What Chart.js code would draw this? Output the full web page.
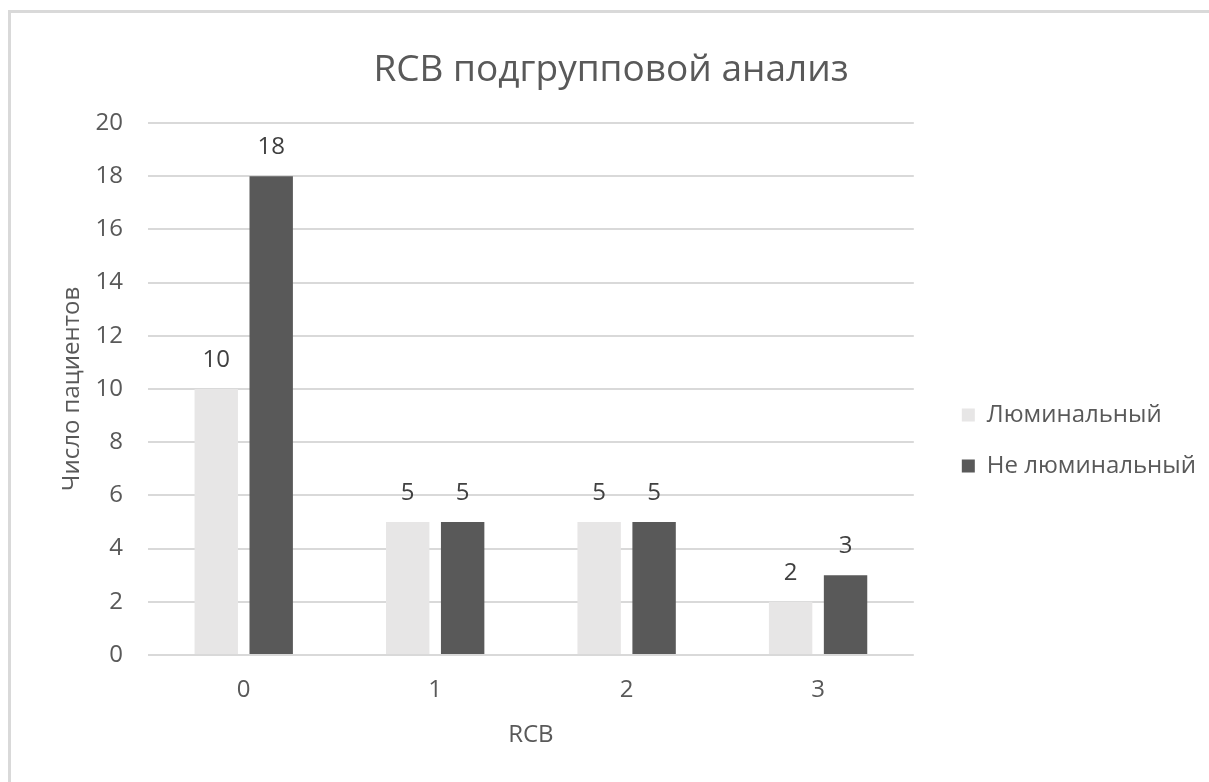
<!DOCTYPE html>
<html>
<head>
<meta charset="utf-8">
<script src="https://cdn.jsdelivr.net/npm/chart.js@4.4.1/dist/chart.umd.min.js"></script>
<style>
  html, body { margin: 0; padding: 0; background: #ffffff; }
  #wrap { position: relative; width: 1209px; height: 782px; overflow: hidden; }
  #frame { position: absolute; left: 8px; top: 10px; width: 1400px; height: 1000px;
           border-left: 3px solid #d9d9d9; border-top: 3px solid #d9d9d9; }
  canvas { position: absolute; left: 0; top: 0; }
</style>
</head>
<body>
<div id="wrap">
  <div id="frame"></div>
  <canvas id="chart" width="1209" height="782"></canvas>
</div>
<script>
// RCB groups and patient counts per subtype
const categories = ['0', '1', '2', '3'];
const luminal = [10, 5, 5, 2];
const nonLuminal = [18, 5, 5, 3];
const seriesNames = ['Люминальный', 'Не люминальный'];
const chartTitle = 'RCB подгрупповой анализ';
const xTitle = 'RCB';
const yTitle = 'Число пациентов';
const yMin = 0, yMax = 20, yStep = 2;

const FONT = '"Open Sans", "Noto Sans", sans-serif';
const TEXT = '#595959';
const GRID = '#d9d9d9';
const SIZE = 24;

// value labels above every bar
const valueLabels = {
  id: 'valueLabels',
  afterDatasetsDraw(chart) {
    const ctx = chart.ctx;
    ctx.save();
    ctx.font = SIZE + 'px ' + FONT;
    ctx.fillStyle = '#404040';
    ctx.textAlign = 'center';
    ctx.textBaseline = 'middle';
    chart.data.datasets.forEach((ds, i) => {
      chart.getDatasetMeta(i).data.forEach((bar, j) => {
        ctx.fillText(String(ds.data[j]), bar.x, bar.y - 29);
      });
    });
    ctx.restore();
  }
};

new Chart(document.getElementById('chart'), {
  type: 'bar',
  data: {
    labels: categories,
    datasets: [
      { label: seriesNames[0], data: luminal, backgroundColor: '#e7e6e6',
        categoryPercentage: 0.574, barPercentage: 0.79 },
      { label: seriesNames[1], data: nonLuminal, backgroundColor: '#595959',
        categoryPercentage: 0.574, barPercentage: 0.79 }
    ]
  },
  options: {
    responsive: false,
    animation: false,
    events: [],
    layout: { padding: { top: 30, left: 16, right: 3, bottom: 25 } },
    plugins: {
      title: {
        display: true, text: chartTitle, color: TEXT,
        font: { family: FONT, size: 37, weight: 'normal' },
        padding: { top: 17.8, bottom: 30.8 }
      },
      legend: {
        position: 'right',
        title: { display: true, text: ' ', font: { family: FONT, size: SIZE }, padding: { top: 65.2, bottom: 0 } },
        labels: {
          color: TEXT, boxWidth: 13, boxHeight: 13, padding: 27,
          font: { family: FONT, size: SIZE }
        }
      },
      tooltip: { enabled: false }
    },
    scales: {
      x: {
        grid: { display: false, drawTicks: false },
        border: { display: false },
        ticks: { color: TEXT, font: { family: FONT, size: SIZE }, padding: 20.6 },
        title: { display: true, text: xTitle, color: TEXT,
                 font: { family: FONT, size: SIZE }, padding: { top: 10, bottom: 7.6 } },
        afterFit(scale) { scale.height = 102; }
      },
      y: {
        min: yMin, max: yMax,
        ticks: { stepSize: yStep, color: TEXT, font: { family: FONT, size: SIZE }, padding: 25 },
        grid: { color: GRID, lineWidth: 2, drawTicks: false },
        border: { display: false },
        title: { display: true, text: yTitle, color: TEXT,
                 font: { family: FONT, size: SIZE }, padding: { top: 41.6, bottom: 10 } },
        afterFit(scale) { scale.width = 132; }
      },
      // empty spacer between the plot and the legend
      gap: {
        type: 'linear', position: 'right', display: false,
        afterFit(scale) { scale.width = 21; }
      }
    }
  },
  plugins: [valueLabels]
});
</script>
</body>
</html>
